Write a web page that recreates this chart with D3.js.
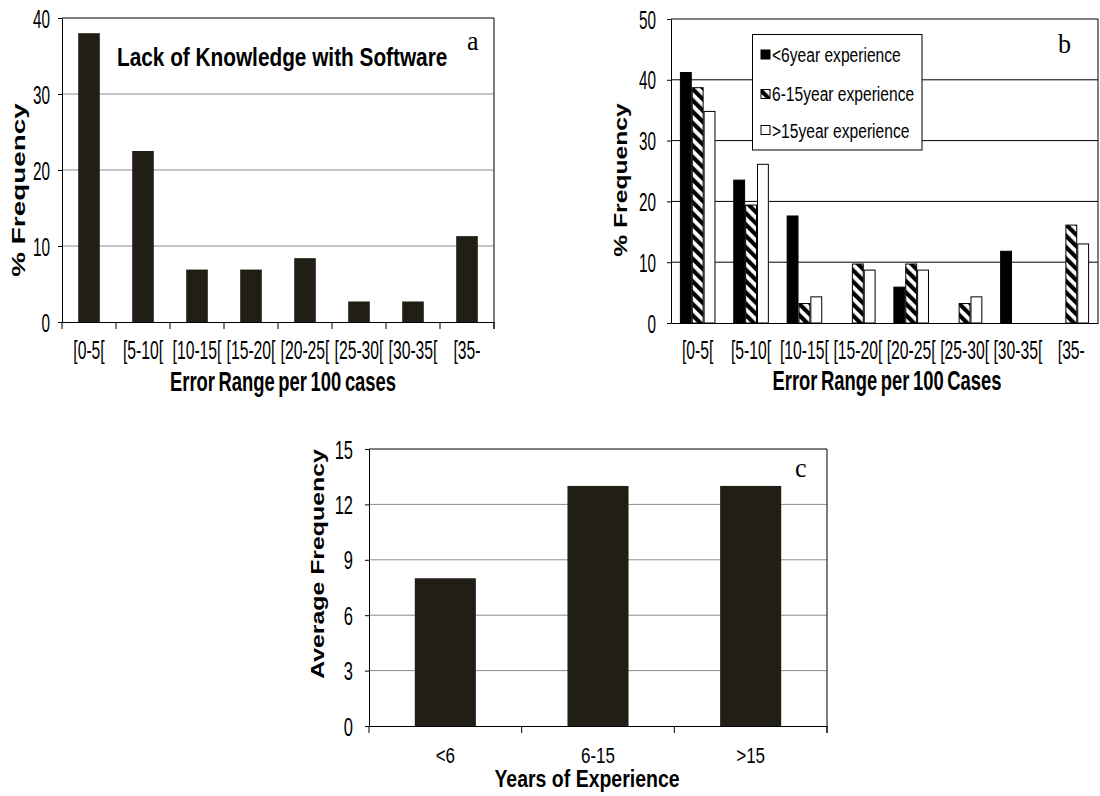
<!DOCTYPE html>
<html>
<head>
<meta charset="utf-8">
<script src="https://cdn.jsdelivr.net/npm/d3@7"></script>
<style>
  body { margin: 0; background: #fff; }
  svg { display: block; }
</style>
</head>
<body>
<svg id="chart" width="1100" height="796"></svg>
<script>
// ---- data ----
const rangeCats = ["[0-5[", "[5-10[", "[10-15[", "[15-20[", "[20-25[", "[25-30[", "[30-35[", "[35-"];
const lackKnowledge = [38.0, 22.5, 6.9, 6.9, 8.4, 2.7, 2.7, 11.3];

const seriesNames = ["<6year experience", "6-15year experience", ">15year experience"];
const under6 = [41.2, 23.5, 17.6, 0, 5.9, 0, 11.8, 0];
const from6to15 = [38.7, 19.4, 3.2, 9.7, 9.7, 3.2, 0, 16.1];
const over15 = [34.8, 26.1, 4.3, 8.7, 8.7, 4.3, 0, 13.0];

const expCats = ["<6", "6-15", ">15"];
const avgFreq = [8, 13, 13];

const ticksA = [0, 10, 20, 30, 40];
const ticksB = [0, 10, 20, 30, 40, 50];
const ticksC = [0, 3, 6, 9, 12, 15];

// ---- setup ----
const SANS = "'Liberation Sans', Arial, Helvetica, sans-serif";
const SERIF = "'Liberation Serif', 'Times New Roman', serif";
const BAR = "#211e15";
const GRID = "#8c8c8c";

const svg = d3.select("#chart");
const defs = svg.append("defs");
const hatch = defs.append("pattern")
  .attr("id", "hatch")
  .attr("patternUnits", "userSpaceOnUse")
  .attr("width", 8).attr("height", 8)
  .attr("patternTransform", "rotate(-45)");
hatch.append("rect").attr("width", 8).attr("height", 8).attr("fill", "#fff");
hatch.append("rect").attr("width", 4.2).attr("height", 8).attr("fill", "#000");

// text with a vertical stretch (the figure's lettering is tall and narrow)
function label(g, o) {
  return g.append("text")
    .attr("transform", `translate(${o.x},${o.y}) scale(1,${o.sy || 1})${o.rotate ? " rotate(-90)" : ""}`)
    .attr("font-family", o.family || SANS)
    .attr("font-size", o.size)
    .attr("font-weight", o.weight || "normal")
    .attr("text-anchor", o.anchor || "start")
    .attr("word-spacing", o.ws || 0)
    .attr("fill", "#000")
    .text(o.text);
}

function yAxis(g, scale, ticks, x, pad, size, sy) {
  const ax = g.append("g")
    .attr("transform", `translate(${x},0)`)
    .call(d3.axisLeft(scale).tickValues(ticks).tickSize(4).tickSizeOuter(0).tickPadding(pad));
  ax.select(".domain").attr("stroke", "#000");
  ax.selectAll(".tick line").attr("stroke", "#000");
  ax.selectAll(".tick text")
    .attr("font-family", SANS).attr("font-size", size).attr("fill", "#000")
    .attr("dy", "0.36em")
    .attr("transform", `scale(1,${sy})`);
  return ax;
}

function xLabels(g, scale, y, off, size, sy) {
  const ax = g.append("g")
    .attr("transform", `translate(0,${y})`)
    .call(d3.axisBottom(scale).tickSize(0).tickSizeOuter(0).tickPadding(0));
  ax.select(".domain").attr("stroke", "#000");
  ax.selectAll(".tick text")
    .attr("font-family", SANS).attr("font-size", size).attr("fill", "#000")
    .attr("y", 0).attr("dy", 0)
    .attr("transform", `translate(0,${off}) scale(1,${sy})`);
  return ax;
}

function boundaryTicks(g, scale, y, len) {
  const [r0] = scale.range();
  const n = scale.domain().length;
  g.append("g").selectAll("line")
    .data(d3.range(n + 1))
    .join("line")
    .attr("x1", i => r0 + i * scale.step()).attr("x2", i => r0 + i * scale.step())
    .attr("y1", y).attr("y2", y + len)
    .attr("stroke", "#000");
}

function gridAndFrame(g, xs, ys, ticks, color, tickLen) {
  const [x0, x1] = xs.range();
  const top = ticks[ticks.length - 1];
  g.append("g").selectAll("line")
    .data(ticks.slice(1, -1))
    .join("line")
    .attr("x1", x0).attr("x2", x1)
    .attr("y1", d => ys(d)).attr("y2", d => ys(d))
    .attr("stroke", color);
  g.append("line").attr("x1", x0).attr("x2", x1).attr("y1", ys(top)).attr("y2", ys(top)).attr("stroke", "#000");
  g.append("line").attr("x1", x1).attr("x2", x1).attr("y1", ys(top)).attr("y2", ys(0) + tickLen).attr("stroke", "#000");
}

// ---- panel a ----
{
  const g = svg.append("g");
  const x = d3.scaleBand().domain(rangeCats).range([62, 494]).paddingInner(0.6).paddingOuter(0.3);
  const y = d3.scaleLinear().domain([0, 40]).range([322, 18]);

  gridAndFrame(g, x, y, ticksA, GRID, 7);

  g.append("g").selectAll("rect")
    .data(rangeCats.map((c, i) => ({ c, v: lackKnowledge[i] })))
    .join("rect")
    .attr("x", d => x(d.c)).attr("width", x.bandwidth())
    .attr("y", d => y(d.v)).attr("height", d => y(0) - y(d.v))
    .attr("fill", BAR);

  yAxis(g, y, ticksA, 62, 8, 15.3, 1.65);
  xLabels(g, x, 322, 37, 15.7, 1.6);
  boundaryTicks(g, x, 322, 7);

  label(g, { x: 117, y: 65.5, text: "Lack of Knowledge with Software", size: 20.8, sy: 1.28, weight: "bold" });
  label(g, { x: 467, y: 50, text: "a", size: 26, sy: 1.05, family: SERIF });
  label(g, { x: 25, y: 190, text: "% Frequency", size: 18, sy: 1.55, weight: "bold", anchor: "middle", rotate: true });
  label(g, { x: 283, y: 391, text: "Error Range per 100 cases", size: 18.4, sy: 1.52, weight: "bold", anchor: "middle", ws: -1.5 });
}

// ---- panel b ----
{
  const g = svg.append("g");
  const x = d3.scaleBand().domain(rangeCats).range([671, 1098]).paddingInner(1 / 3).paddingOuter(1 / 6);
  const xs = d3.scaleBand().domain(seriesNames).range([0, x.bandwidth()]);
  const y = d3.scaleLinear().domain([0, 50]).range([323, 19]);
  const series = [under6, from6to15, over15];
  const fills = ["#000", "url(#hatch)", "#fff"];

  gridAndFrame(g, x, y, ticksB, "#000", 0);

  const groups = g.append("g").selectAll("g")
    .data(rangeCats.map((c, i) => ({ c, vals: series.map((s, k) => ({ k, v: s[i] })) })))
    .join("g")
    .attr("transform", d => `translate(${x(d.c)},0)`);
  groups.selectAll("rect")
    .data(d => d.vals.filter(e => e.v > 0))
    .join("rect")
    .attr("x", e => xs(seriesNames[e.k]) + 0.5).attr("width", xs.bandwidth() - 1)
    .attr("y", e => y(e.v)).attr("height", e => y(0) - y(e.v))
    .attr("fill", e => fills[e.k])
    .attr("stroke", "#000").attr("stroke-width", 1);

  yAxis(g, y, ticksB, 671, 11, 15.3, 1.65);
  xLabels(g, x, 323, 36, 15.7, 1.6);

  // legend
  const lg = g.append("g");
  lg.append("rect").attr("x", 752.5).attr("y", 34.5).attr("width", 169.5).attr("height", 115.5)
    .attr("fill", "#fff").attr("stroke", "#000");
  const rows = [{ sy: 50, ty: 62 }, { sy: 89.5, ty: 101 }, { sy: 125.5, ty: 138 }];
  seriesNames.forEach((name, k) => {
    lg.append("rect").attr("x", 761).attr("y", rows[k].sy).attr("width", 9).attr("height", 9)
      .attr("fill", fills[k]).attr("stroke", "#000");
    label(lg, { x: 772, y: rows[k].ty, text: name, size: 15.6, sy: 1.24 });
  });

  label(g, { x: 1058, y: 53, text: "b", size: 26, sy: 1.05, family: SERIF });
  label(g, { x: 627, y: 180, text: "% Frequency", size: 18, sy: 1.37, weight: "bold", anchor: "middle", rotate: true });
  label(g, { x: 887, y: 390, text: "Error Range per 100 Cases", size: 18.4, sy: 1.52, weight: "bold", anchor: "middle", ws: -1.5 });
}

// ---- panel c ----
{
  const g = svg.append("g");
  const x = d3.scaleBand().domain(expCats).range([369, 827]).paddingInner(0.6).paddingOuter(0.3);
  const y = d3.scaleLinear().domain([0, 15]).range([726, 449]);

  gridAndFrame(g, x, y, ticksC, GRID, 7);

  g.append("g").selectAll("rect")
    .data(expCats.map((c, i) => ({ c, v: avgFreq[i] })))
    .join("rect")
    .attr("x", d => x(d.c)).attr("width", x.bandwidth())
    .attr("y", d => y(d.v)).attr("height", d => y(0) - y(d.v))
    .attr("fill", BAR);

  yAxis(g, y, ticksC, 369, 12, 16.5, 1.52);
  xLabels(g, x, 726, 37, 17, 1.3);
  boundaryTicks(g, x, 726, 7);

  label(g, { x: 795, y: 477, text: "c", size: 26, sy: 1.05, family: SERIF });
  label(g, { x: 324, y: 564, text: "Average Frequency", size: 17.5, sy: 1.42, weight: "bold", anchor: "middle", rotate: true });
  label(g, { x: 587, y: 787, text: "Years of Experience", size: 19.5, sy: 1.2, weight: "bold", anchor: "middle" });
}
</script>
</body>
</html>
